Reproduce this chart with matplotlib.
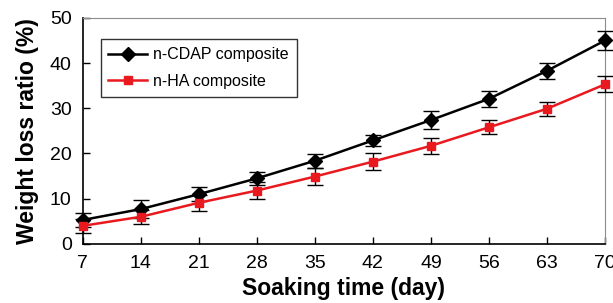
import matplotlib.pyplot as plt
from matplotlib.lines import Line2D

plt.rcParams['font.family'] = ['Liberation Sans', 'DejaVu Sans']

days = [7, 14, 21, 28, 35, 42, 49, 56, 63, 70]
cdap = [5.3, 7.7, 11.0, 14.5, 18.4, 22.9, 27.4, 32.1, 38.3, 45.0]
cdap_err = [1.5, 2.0, 1.5, 1.5, 1.5, 1.2, 2.0, 1.8, 1.8, 2.0]
ha = [4.0, 6.0, 9.1, 11.8, 14.9, 18.2, 21.7, 25.8, 29.9, 35.3]
ha_err = [1.5, 1.5, 1.8, 1.8, 1.8, 1.8, 1.8, 1.5, 1.5, 1.8]

red = '#e8191f'

fig = plt.figure(figsize=(6.13, 3.03), dpi=100)
ax = fig.add_axes([0.135, 0.195, 0.852, 0.746])

ax.errorbar(days, cdap, yerr=cdap_err, color='black', marker='D', markersize=7,
            linewidth=1.8, ecolor='black', elinewidth=1, capsize=6, capthick=1,
            clip_on=False, zorder=3)
ax.errorbar(days, ha, yerr=ha_err, color=red, marker='s', markersize=5.5,
            linewidth=1.8, ecolor='black', elinewidth=1, capsize=6, capthick=1,
            clip_on=False, zorder=3)

ax.set_xlim(7, 70)
ax.set_ylim(0, 50)
ax.set_xticks(days)
ax.set_yticks([0, 10, 20, 30, 40, 50])
ax.tick_params(direction='in', labelsize=14, length=5, width=1)
ax.tick_params(axis='x', pad=8)
ax.tick_params(axis='y', pad=8)
for s in ['top', 'right']:
    ax.spines[s].set_color('0.55')
    ax.spines[s].set_linewidth(0.8)
for s in ['left', 'bottom']:
    ax.spines[s].set_linewidth(1.2)

ax.set_xlabel('Soaking time (day)', fontsize=16.5, fontweight='bold', labelpad=3.5)
ax.set_ylabel('Weight loss ratio (%)', fontsize=16.5, fontweight='bold', labelpad=8)

handles = [Line2D([], [], color='black', marker='D', markersize=7, linewidth=1.8),
           Line2D([], [], color=red, marker='s', markersize=5.5, linewidth=1.8)]
leg = ax.legend(handles, ['n-CDAP composite', 'n-HA composite'],
                loc='upper left', bbox_to_anchor=(0.034, 0.905), fontsize=11.5,
                frameon=True, fancybox=False, edgecolor='black', handlelength=2.4,
                handletextpad=0.4, borderpad=0.5, labelspacing=0.7, borderaxespad=0)
leg.get_frame().set_linewidth(1)

plt.savefig('out.png', dpi=100)
